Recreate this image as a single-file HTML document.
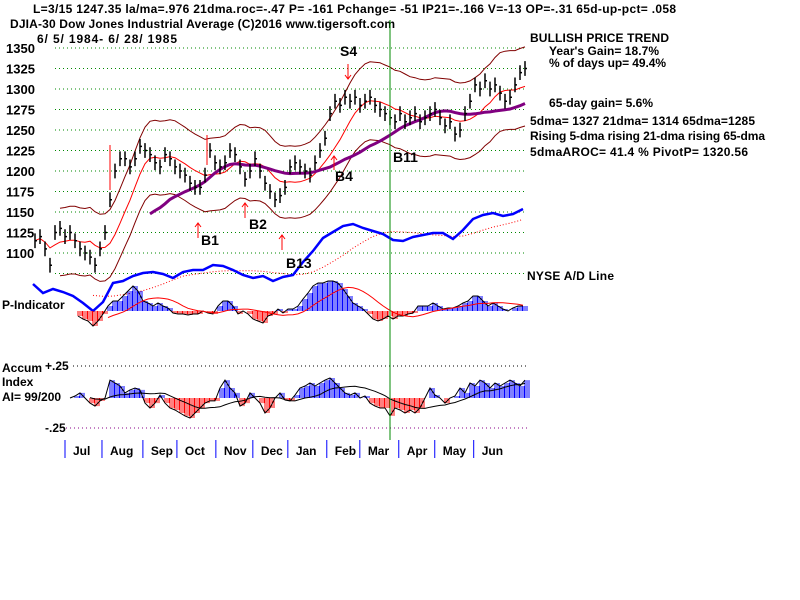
<!DOCTYPE html>
<html><head><meta charset="utf-8"><style>
body{margin:0;background:#fff}
svg{display:block}
text{font-family:"Liberation Sans",Arial,sans-serif;font-weight:bold;font-size:12px;fill:#000}
</style></head><body>
<svg id="c" width="800" height="600" viewBox="0 0 800 600" xmlns="http://www.w3.org/2000/svg">
<rect width="800" height="600" fill="#fff"/>
<g id="grid"></g>
<g id="ylab" style="font-size:13px"></g>
<text x="33" y="13" textLength="643">L=3/15  1247.35  la/ma=.976 21dma.roc=-.47 P= -161 Pchange= -51 IP21=-.166 V=-13 OP=-.31 65d-up-pct= .058</text>
<text x="10" y="28" textLength="385">DJIA-30  Dow Jones Industrial Average   (C)2016 www.tigersoft.com</text>
<text x="37" y="43" textLength="140">6/ 5/ 1984- 6/ 28/ 1985</text>
<g>
<text x="530" y="42" textLength="139">BULLISH PRICE TREND</text>
<text x="549" y="55" textLength="110">Year's Gain= 18.7%</text>
<text x="549" y="67" textLength="117">% of days up= 49.4%</text>
<text x="549" y="107" textLength="104">65-day gain= 5.6%</text>
<text x="530" y="125" textLength="225">5dma= 1327 21dma= 1314 65dma=1285</text>
<text x="530" y="140" textLength="235">Rising 5-dma  rising 21-dma  rising 65-dma</text>
<text x="530" y="156" textLength="218">5dmaAROC= 41.4 %  PivotP= 1320.56</text>
<text x="527" y="280" textLength="87">NYSE A/D Line</text>
</g>
<g id="series"></g>
<g style="font-size:14px">
<text x="340" y="56" style="font-size:14px">S4</text>
<text x="201" y="245" style="font-size:14px">B1</text>
<text x="249" y="229" style="font-size:14px">B2</text>
<text x="286" y="268" style="font-size:14px">B13</text>
<text x="335" y="181" style="font-size:14px">B4</text>
<text x="393" y="162" style="font-size:14px">B11</text>
</g>
<g stroke="#f00" fill="none" stroke-width="1">
<path d="M110 145V190M207 135V165"/>
<path d="M198 238V223M195 227L198 223L201 227"/>
<path d="M245 218V203M242 207L245 203L248 207"/>
<path d="M282 250V235M279 239L282 235L285 239"/>
<path d="M334 170V156M331 160L334 156L337 160"/>
<path d="M348 64V79M345 75L348 79L351 75"/>
</g>
<text x="2" y="309">P-Indicator</text>
<text x="2" y="372">Accum</text>
<text x="2" y="386">Index</text>
<text x="2" y="401">AI= 99/200</text>
<text x="45" y="370">+.25</text>
<text x="45" y="432">-.25</text>
<line x1="73" y1="366" x2="527" y2="366" stroke="#000" stroke-dasharray="1,3"/>
<line x1="66" y1="428" x2="527" y2="428" stroke="#808" stroke-dasharray="1,3"/>
<line x1="390" y1="20" x2="390" y2="440" stroke="#080" stroke-width="1"/>
<g id="months"></g>
</svg>
<script>
const priceTicks=[1350,1325,1300,1275,1250,1225,1200,1175,1150,1125,1100];
const months=["Jul","Aug","Sep","Oct","Nov","Dec","Jan","Feb","Mar","Apr","May","Jun"];
const monthStart=[0,7.5,15.8,22.7,30.6,38.1,45.2,53.1,59.8,67.7,75,82.9];
const closes=[1115,1120,1105,1085,1125,1130,1120,1125,1115,1105,1100,1095,1085,1105,1125,1165,1200,1215,1215,1205,1215,1230,1225,1220,1210,1205,1220,1215,1205,1200,1195,1185,1180,1180,1195,1225,1210,1205,1210,1225,1220,1205,1190,1200,1215,1200,1185,1175,1165,1170,1180,1205,1210,1205,1200,1195,1210,1225,1240,1270,1285,1280,1290,1285,1290,1280,1285,1290,1280,1275,1270,1265,1260,1270,1260,1265,1270,1260,1265,1270,1275,1265,1255,1260,1245,1250,1270,1285,1305,1300,1310,1300,1305,1295,1285,1290,1305,1320,1325];
const adLine=[36,27,31,28,24,17,9,18,37,39,44,47,48,46,42,48,50,50,55,54,50,45,42,44,39,43,45,58,69,82,88,94,96,92,89,86,80,79,83,85,87,87,81,90,101,105,107,104,106,111];
const pInd=[-5,-8,-10,-15,-10,-3,5,10,10,15,20,25,20,10,8,5,8,5,3,-2,-3,-3,-4,-3,-3,0,-2,-3,5,10,10,5,-3,0,-3,-8,-10,-12,-5,-3,2,-2,2,2,5,12,18,25,28,28,30,30,28,22,15,8,5,2,-3,-8,-10,-8,-5,-8,-5,-5,-3,-2,5,5,5,8,5,2,3,3,5,8,10,15,15,10,5,8,5,2,0,3,5,5];
const accum=[0,.016,.04,0,-.04,-.063,-.023,0,.14,.117,.094,.04,.063,.078,.063,-.04,-.078,-.04,.023,-.04,-.078,-.094,-.117,-.14,-.156,-.117,-.078,-.04,-.023,-.023,.078,.14,.078,.04,-.063,-.04,.04,0,-.04,-.117,-.078,0,.04,-.016,-.023,.023,.078,.094,.117,.094,.117,.14,.156,.117,.078,.04,.023,.04,0,.016,-.04,-.063,-.078,-.078,-.14,-.078,-.094,-.117,-.094,-.117,-.078,0,.078,.023,0,-.04,0,.016,.078,.04,.117,.094,.14,.117,.078,.117,.094,.117,.14,.117,.094,.14];
const NS="http://www.w3.org/2000/svg";
function el(t,a,p){const e=document.createElementNS(NS,t);for(const k in a)e.setAttribute(k,a[k]);(p||document.getElementById('series')).appendChild(e);return e;}
const yP=v=>48+(1350-v)*0.82;
const xI=i=>35+i*5;
const g=document.getElementById('grid'),yl=document.getElementById('ylab');
for(let v=1350;v>=1075;v-=25){const l=el('line',{x1:55,x2:527,y1:yP(v),y2:yP(v),stroke:'#080','stroke-dasharray':'1,3'},g);

}
priceTicks.forEach(v=>{const t=el('text',{x:6,y:yP(v)+5,style:'font-size:13px'},yl);t.textContent=v;

});
function ma(a,n){return a.map((_,i)=>{const s=a.slice(Math.max(0,i-n+1),i+1);return s.reduce((x,y)=>x+y,0)/s.length;});}
function path(pts){return pts.map((p,i)=>(i?'L':'M')+p[0].toFixed(1)+' '+p[1].toFixed(1)).join('');}
const m21=ma(closes,8);
const lagStart=5;
const up=el('path',{d:path(m21.map((v,i)=>[xI(i),yP(v*1.037)]).slice(lagStart)),stroke:'#800000',fill:'none'});


const lo=el('path',{d:path(m21.map((v,i)=>[xI(i),yP(v*0.963)]).slice(lagStart)),stroke:'#800000',fill:'none'});


const r21=el('path',{d:path(m21.map((v,i)=>[xI(i),yP(v)])),stroke:'#f00',fill:'none'});


const m65=ma(closes,24);
const p65=el('path',{d:path(m65.map((v,i)=>[xI(i),yP(v)]).slice(23)),stroke:'#800080','stroke-width':3,fill:'none'});


closes.forEach((c,i)=>{const x=xI(i);
const b=el('path',{d:`M${x} ${yP(c+9)}V${yP(c-9)}M${x} ${yP(c)}H${x+2}`,stroke:'#000','stroke-width':1.5,fill:'none'});

});
const yA=v=>320-v;const xA=i=>33+i*10;
const adma=ma(adLine,8);
const adm=el('path',{d:path(adma.map((v,i)=>[xA(i),yA(v)]).slice(6)),stroke:'#f00','stroke-dasharray':'1,2',fill:'none'});


const ad=el('path',{d:path(adLine.map((v,i)=>[xA(i),yA(v)])),stroke:'#00f','stroke-width':2.5,fill:'none'});


const yPI=v=>311-v;const xPI=i=>78+i*5;
pInd.forEach((v,i)=>{for(let k=0;k<5;k+=2){const bar=el('line',{x1:xPI(i)+k,x2:xPI(i)+k,y1:311,y2:yPI(v),stroke:v>=0?'#00f':'#f00'});

}});
const pl=el('path',{d:path(pInd.map((v,i)=>[xPI(i),yPI(v)])),stroke:'#000',fill:'none'});


const pma=el('path',{d:path(ma(pInd,10).map((v,i)=>[xPI(i),yPI(v)]).slice(6)),stroke:'#f00',fill:'none'});


const yAI=v=>398-v*128;const xAI=i=>70+i*5;
accum.forEach((v,i)=>{for(let k=0;k<5;k+=2){const bar=el('line',{x1:xAI(i)+k,x2:xAI(i)+k,y1:398,y2:yAI(v),stroke:v>=0?'#00f':'#f00'});

}});
const al=el('path',{d:path(accum.map((v,i)=>[xAI(i),yAI(v)])),stroke:'#000',fill:'none'});


const ama=el('path',{d:path(ma(accum,12).map((v,i)=>[xAI(i),yAI(v)]).slice(4)),stroke:'#000',fill:'none'});


const mg=document.getElementById('months');
const xM=m=>65+m*4.93;
months.forEach((m,i)=>{const x=xM(monthStart[i]);
const tk=el('line',{x1:x,x2:x,y1:440,y2:458,stroke:'#00f'},mg);


const t=el('text',{x:x+8,y:455},mg);t.textContent=m;

});
</script>
</body></html>
